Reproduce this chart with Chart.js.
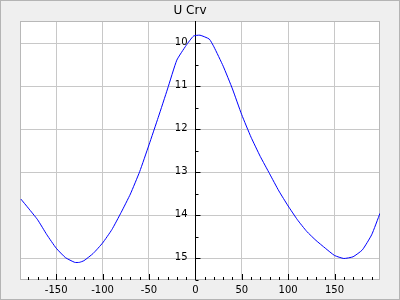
<!DOCTYPE html>
<html>
<head>
<meta charset="utf-8">
<script src="https://cdn.jsdelivr.net/npm/chart.js@4"></script>
<style>
  html, body { margin: 0; padding: 0; background: #efefef; }
  canvas { display: block; }
</style>
</head>
<body>
<canvas id="u-chart" width="400" height="300"></canvas>
<script>
/* ----------------------------
   DATA
   ---------------------------- */
var chartTitle = "U Crv";

var uAngles = [-188, -180, -170, -160, -150, -140, -130, -125, -120, -110, -100, -90, -80, -70, -60, -50, -40, -30, -20, -10, -2, 5, 15, 20, 30, 40, 50, 60, 70, 80, 90, 100, 110, 120, 130, 140, 150, 160, 170, 180, 190, 199];
var uValues = [13.62, 13.83, 14.1, 14.45, 14.76, 14.98, 15.09, 15.09, 15.05, 14.88, 14.64, 14.33, 13.93, 13.5, 12.98, 12.36, 11.72, 11.06, 10.39, 10.05, 9.83, 9.81, 9.9, 10.08, 10.53, 11.06, 11.66, 12.18, 12.63, 13.03, 13.43, 13.78, 14.1, 14.37, 14.58, 14.76, 14.93, 15.0, 14.96, 14.8, 14.45, 13.95];

var yTicks      = [10, 11, 12, 13, 14, 15];
var yTickLabels = ["10", "11", "12", "13", "14", "15"];

var xMin = -189, xMax = 199;
var yMin = 9.48, yMax = 15.5;

/* ----------------------------
   PLUGINS — background, frame, centre axis
   ---------------------------- */
var frameColor = "#b8b8b8";

var backgroundPlugin = {
  id: "background",
  beforeDraw: function (chart) {
    var ctx = chart.ctx;
    var area = chart.chartArea;
    ctx.save();
    ctx.fillStyle = "#efefef";
    ctx.fillRect(0, 0, chart.width, chart.height);
    ctx.strokeStyle = "#b4b4b4";
    ctx.lineWidth = 1;
    ctx.strokeRect(0.5, 0.5, chart.width - 1, chart.height - 1);
    ctx.fillStyle = "#ffffff";
    ctx.fillRect(area.left, area.top, area.right - area.left, area.bottom - area.top);
    ctx.restore();
  }
};

var axisPlugin = {
  id: "centreAxis",
  beforeDatasetsDraw: function (chart) {
    var ctx = chart.ctx;
    var xs = chart.scales.x;
    var ys = chart.scales.y;
    var area = chart.chartArea;

    ctx.save();

    // Frame round the plot
    ctx.strokeStyle = frameColor;
    ctx.lineWidth = 1;
    ctx.strokeRect(Math.round(area.left) + 0.5, Math.round(area.top) + 0.5,
                   Math.round(area.right - area.left) - 1, Math.round(area.bottom - area.top) - 1);

    ctx.strokeStyle = "#000000";
    ctx.beginPath();

    // Vertical axis at x = 0
    var x0 = Math.round(xs.getPixelForValue(0)) + 0.5;
    ctx.moveTo(x0, area.top);
    ctx.lineTo(x0, area.bottom);

    // Major and minor ticks on the y axis (to the right of the axis line)
    for (var v = 10; v <= 15.5; v += 0.5) {
      var y = Math.round(ys.getPixelForValue(v)) + 0.5;
      var len = (v % 1 === 0) ? 5 : 3;
      ctx.moveTo(x0, y);
      ctx.lineTo(x0 + len, y);
    }

    // Ticks along the bottom edge, pointing up into the plot
    var yb = Math.round(area.bottom);
    for (var t = -180; t <= 190; t += 10) {
      if (t === 0) { continue; }
      var xp = Math.round(xs.getPixelForValue(t)) + 0.5;
      var tl = (t % 50 === 0) ? 6 : 3;
      ctx.moveTo(xp, yb);
      ctx.lineTo(xp, yb - tl);
    }
    ctx.stroke();

    // Y tick labels, left of the centre axis
    ctx.fillStyle = "#000000";
    ctx.font = "10px 'DejaVu Sans'";
    ctx.textAlign = "right";
    ctx.textBaseline = "middle";
    for (var i = 0; i < yTicks.length; i++) {
      ctx.fillText(yTickLabels[i], x0 - 8, ys.getPixelForValue(yTicks[i]) - 1);
    }

    ctx.restore();
  }
};

/* ----------------------------
   CHART
   ---------------------------- */
function initUChart() {
  var canvas = document.getElementById("u-chart");
  if (!canvas) { return; }

  var points = uAngles.map(function (a, i) {
    return { x: a, y: uValues[i] };
  });

  var ctx = canvas.getContext("2d");

  new Chart(ctx, {
    type: "scatter",
    data: {
      datasets: [{
        label: chartTitle,
        data: points,
        showLine: true,
        borderColor: "#0000ff",
        borderWidth: 1,
        pointRadius: 0,
        tension: 0.15,
        fill: false
      }]
    },
    options: {
      responsive: false,
      animation: false,
      devicePixelRatio: 1,
      layout: { padding: { left: 0, right: 20, top: 0, bottom: 0 } },
      plugins: {
        legend: { display: false },
        tooltip: { enabled: false },
        title: {
          display: true,
          text: chartTitle,
          color: "#000000",
          font: { family: "'DejaVu Sans'", size: 12, weight: "normal", lineHeight: "14px" },
          padding: { top: 4, bottom: 3 }
        }
      },
      scales: {
        x: {
          type: "linear",
          min: xMin,
          max: xMax,
          afterFit: function (scale) { scale.height = 20; },
          border: { display: false },
          grid: { color: "#c8c8c8", drawTicks: false },
          ticks: {
            stepSize: 50,
            includeBounds: false,
            color: "#000000",
            padding: 4,
            maxRotation: 0,
            font: { family: "'DejaVu Sans'", size: 10 }
          }
        },
        y: {
          type: "linear",
          reverse: true,
          min: yMin,
          max: yMax,
          afterFit: function (scale) { scale.width = 20; },
          border: { display: false },
          grid: { color: "#c8c8c8", drawTicks: false },
          ticks: {
            display: false,
            stepSize: 1,
            includeBounds: false
          }
        }
      }
    },
    plugins: [backgroundPlugin, axisPlugin]
  });
}

initUChart();
</script>
</body>
</html>
